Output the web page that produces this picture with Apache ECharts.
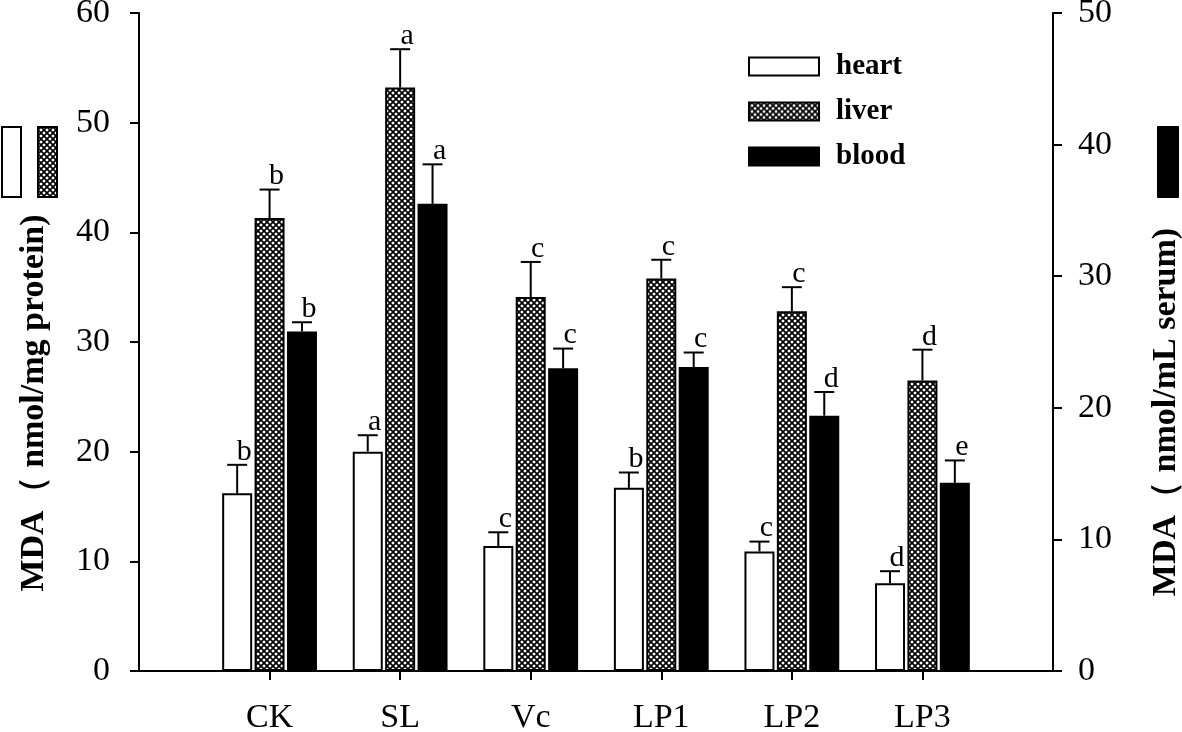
<!DOCTYPE html>
<html><head><meta charset="utf-8">
<script src="https://cdn.jsdelivr.net/npm/echarts@6/dist/echarts.min.js"></script>
<style>html,body{margin:0;padding:0;background:#fff}#c{width:1182px;height:732px}</style>
</head><body><div id="c"></div>
<script>
// ---- data ----
const categories = ['CK', 'SL', 'Vc', 'LP1', 'LP2', 'LP3'];
const heart = [16.2, 20.0, 11.4, 16.7, 10.9, 8.0];
const heartErr = [2.6, 1.5, 1.25, 1.4, 0.9, 1.1];
const heartSig = ['b', 'a', 'c', 'b', 'c', 'd'];
const liver = [41.3, 53.2, 34.1, 35.8, 32.8, 26.5];
const liverErr = [2.6, 3.5, 3.2, 1.7, 2.2, 2.8];
const liverSig = ['b', 'a', 'c', 'c', 'c', 'd'];
const blood = [25.8, 35.5, 23.0, 23.1, 19.4, 14.3];
const bloodErr = [0.7, 3.0, 1.5, 1.1, 1.8, 1.7];
const bloodSig = ['b', 'a', 'c', 'c', 'd', 'e'];
const seriesNames = ['heart', 'liver', 'blood'];
const leftAxisTitle = 'MDA（ nmol/mg protein)';
const rightAxisTitle = 'MDA（ nmol/mL serum)';

// ---- styling helpers ----
const BAR_W = 30, GAP = 0.08;
function hatchCanvas() {
  const s = 6, r = 1.8;
  const c = document.createElement('canvas');
  c.width = s; c.height = s;
  const g = c.getContext('2d');
  g.fillStyle = '#000'; g.fillRect(0, 0, s, s);
  g.fillStyle = '#fff';
  const centers = [[s / 2, s / 2], [0, 0], [s, 0], [0, s], [s, s]];
  centers.forEach(([cx, cy]) => {
    g.beginPath();
    g.moveTo(cx, cy - r); g.lineTo(cx + r, cy); g.lineTo(cx, cy + r); g.lineTo(cx - r, cy);
    g.closePath(); g.fill();
  });
  return c;
}
const hatch = { image: hatchCanvas(), repeat: 'repeat' };
const serif = '"Liberation Serif", "Times New Roman", serif';

const xData = [''].concat(categories, ['']);
const pad = arr => ['-'].concat(arr, ['-']);

function errSeries(vals, errs, sig, k, yAxisIndex) {
  const offset = (k - 1) * BAR_W * (1 + GAP);
  return {
    type: 'custom', yAxisIndex: yAxisIndex, z: 5, silent: true,
    data: vals.map((v, i) => [i + 1, v, errs[i]]),
    encode: { x: 0, y: 1 },
    renderItem: function (params, api) {
      const xi = api.value(0), v = api.value(1), e = api.value(2);
      const p0 = api.coord([xi, v]);
      const p1 = api.coord([xi, v + e]);
      const x = p0[0] + offset;
      return {
        type: 'group', children: [
          { type: 'line', shape: { x1: x, y1: p0[1], x2: x, y2: p1[1] }, style: { stroke: '#000', lineWidth: 2 } },
          { type: 'line', shape: { x1: x - 10, y1: p1[1], x2: x + 10, y2: p1[1] }, style: { stroke: '#000', lineWidth: 2 } },
          { type: 'text', x: x + 7, y: p1[1] + 2, style: { text: sig[params.dataIndex], fill: '#000', font: '30px ' + serif, textAlign: 'center', textVerticalAlign: 'bottom' } }
        ]
      };
    }
  };
}

const chart = echarts.init(document.getElementById('c'));
chart.setOption({
  animation: false,
  backgroundColor: '#fff',
  grid: { left: 139, right: 129, top: 13, bottom: 61, containLabel: false, outerBoundsMode: 'none' },
  legend: {
    data: seriesNames, orient: 'vertical', left: 748, top: 52, padding: 0,
    itemWidth: 70, itemHeight: 18, itemGap: 16, icon: 'rect',
    textStyle: { fontFamily: serif, fontWeight: 'bold', fontSize: 29, color: '#000', padding: [0, 0, 0, 12] }
  },
  xAxis: {
    type: 'category', data: xData, boundaryGap: false,
    axisLine: { lineStyle: { color: '#000', width: 2 } },
    axisTick: { length: 9, lineStyle: { color: '#000', width: 2 }, interval: (i) => i > 0 && i < xData.length - 1 },
    axisLabel: { color: '#000', fontFamily: serif, fontSize: 34, margin: 30, interval: 0 },
    splitLine: { show: false }
  },
  yAxis: [{
    type: 'value', min: 0, max: 60, interval: 10,
    name: leftAxisTitle + '{sp| }', nameLocation: 'middle', nameRotate: 90, nameGap: 88,
    nameTextStyle: { fontFamily: serif, fontWeight: 'bold', fontSize: 34, color: '#000', rich: { sp: { width: 122 } } },
    axisLine: { show: true, lineStyle: { color: '#000', width: 2 } },
    axisTick: { show: true, length: 9, lineStyle: { color: '#000', width: 2 } },
    axisLabel: { color: '#000', fontFamily: serif, fontSize: 34, margin: 29 },
    splitLine: { show: false }
  }, {
    type: 'value', min: 0, max: 50, interval: 10, position: 'right',
    name: rightAxisTitle + '{sp| }', nameLocation: 'middle', nameRotate: 90, nameGap: 96,
    nameTextStyle: { fontFamily: serif, fontWeight: 'bold', fontSize: 34, color: '#000', rich: { sp: { width: 140 } } },
    axisLine: { show: true, lineStyle: { color: '#000', width: 2 } },
    axisTick: { show: true, length: 9, lineStyle: { color: '#000', width: 2 } },
    axisLabel: { color: '#000', fontFamily: serif, fontSize: 34, margin: 25 },
    splitLine: { show: false }
  }],
  graphic: [
    { type: 'rect', left: 1, top: 126, shape: { width: 19, height: 70 }, style: { fill: '#fff', stroke: '#000', lineWidth: 2 } },
    { type: 'rect', left: 37, top: 126, shape: { width: 19, height: 70 }, style: { fill: hatch, stroke: '#000', lineWidth: 2 } },
    { type: 'rect', left: 1157, top: 126, shape: { width: 21, height: 71 }, style: { fill: '#000', stroke: '#000', lineWidth: 1 } }
  ],
  series: [
    { name: 'heart', type: 'bar', data: pad(heart), barWidth: BAR_W, barGap: (GAP * 100) + '%',
      itemStyle: { color: '#fff', borderColor: '#000', borderWidth: 2 } },
    { name: 'liver', type: 'bar', data: pad(liver), barWidth: BAR_W, barGap: (GAP * 100) + '%',
      itemStyle: { color: hatch, borderColor: '#000', borderWidth: 2 } },
    { name: 'blood', type: 'bar', yAxisIndex: 1, data: pad(blood), barWidth: BAR_W, barGap: (GAP * 100) + '%',
      itemStyle: { color: '#000', borderColor: '#000', borderWidth: 2 } },
    errSeries(heart, heartErr, heartSig, 0, 0),
    errSeries(liver, liverErr, liverSig, 1, 0),
    errSeries(blood, bloodErr, bloodSig, 2, 1)
  ]
});
</script>
</body></html>
